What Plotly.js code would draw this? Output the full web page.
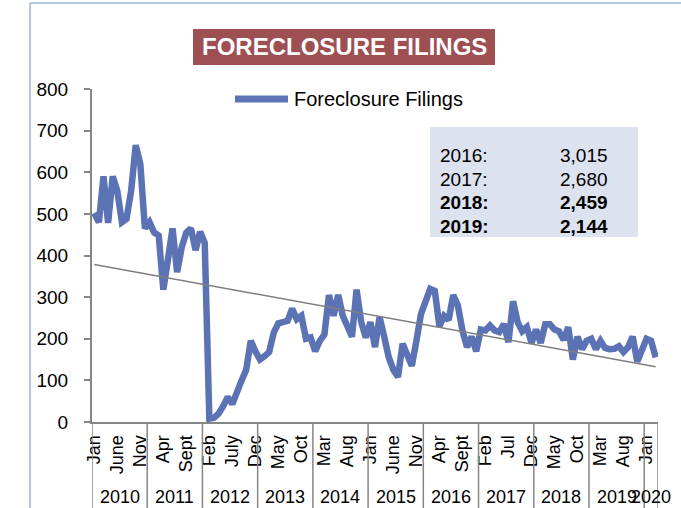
<!DOCTYPE html>
<html>
<head>
<meta charset="utf-8">
<script src="https://cdn.plot.ly/plotly-3.0.1.min.js"></script>
<style>
  html, body { margin: 0; padding: 0; background: #ffffff; }
  #chart { width: 681px; height: 508px; }
</style>
</head>
<body>
<div id="chart"></div>
<script>
// ---- Data (monthly foreclosure filings, Jan 2010 - Mar 2020) ----
const years = ['2010','2011','2012','2013','2014','2015','2016','2017','2018','2019','2020'];
const v2010 = [502, 480, 590, 478, 590, 555, 480, 488, 555, 665, 620, 465];
const v2011 = [480, 455, 448, 318, 390, 465, 360, 420, 455, 465, 413, 457];
const v2012 = [430, 8, 10, 20, 38, 60, 43, 75, 100, 125, 195, 170];
const v2013 = [150, 158, 168, 215, 237, 240, 243, 272, 247, 255, 200, 203];
const v2014 = [170, 195, 210, 305, 255, 305, 255, 230, 205, 318, 240, 203];
const v2015 = [240, 180, 252, 205, 155, 125, 108, 188, 160, 135, 195, 260];
const v2016 = [290, 320, 315, 230, 255, 245, 305, 280, 220, 180, 205, 170];
const v2017 = [222, 220, 232, 220, 216, 235, 192, 290, 240, 218, 228, 190];
const v2018 = [222, 190, 235, 235, 222, 218, 197, 228, 150, 205, 175, 195];
const v2019 = [200, 175, 195, 178, 175, 176, 182, 168, 180, 205, 145, 175];
const v2020 = [200, 195, 155];
const yearValues = [v2010, v2011, v2012, v2013, v2014, v2015, v2016, v2017, v2018, v2019, v2020];

// tick labels shown every 5 months
const tickLabels = ['Jan','June','Nov','Apr','Sept','Feb','July','Dec','May','Oct','Mar','Aug',
                    'Jan','June','Nov','Apr','Sept','Feb','Jul','Dec','May','Oct','Mar','Aug','Jan'];
const tickStep = 5;

// summary box
const statLabels = ['2016:', '2017:', '2018:', '2019:'];
const statTotals = ['3,015', '2,680', '2,459', '2,144'];
const statBold   = [false, false, true, true];

const seriesName = 'Foreclosure Filings';
const chartTitle = 'FORECLOSURE FILINGS';

// ---- Build series ----
const filings = [].concat(...yearValues);
const idx = filings.map((_, i) => i);

// linear trend (least squares)
const n = filings.length;
const mx = idx.reduce((a, b) => a + b, 0) / n;
const my = filings.reduce((a, b) => a + b, 0) / n;
let sxy = 0, sxx = 0;
for (let i = 0; i < n; i++) { sxy += (idx[i] - mx) * (filings[i] - my); sxx += (idx[i] - mx) ** 2; }
const slope = sxy / sxx, icpt = my - slope * mx;
const trend = idx.map(i => icpt + slope * i);

// ---- Geometry helpers (pixel -> paper) ----
const W = 681, H = 508, ML = 92, MR = 23, MT = 89, MB = 86;
const PW = W - ML - MR, PH = H - MT - MB;
const px = x => (x - ML) / PW;
const py = y => (H - MB - y) / PH;

const FONT = 'Liberation Sans, Arial, sans-serif';
const AXIS = '#868686';
const BLUE = '#5B72B4';

const tickvals = [], ticktext = [];
for (let k = 0; k < tickLabels.length; k++) { tickvals.push(k * tickStep); ticktext.push(tickLabels[k]); }

// year groups
const shapes = [];
const annotations = [];
let start = 0;
const bounds = [-0.5];
yearValues.forEach((arr, k) => {
  const end = start + arr.length;
  bounds.push(end - 0.5);
  annotations.push({
    xref: 'x', yref: 'paper', x: (start + end - 1) / 2, y: py(497),
    text: years[k], showarrow: false, xanchor: 'center', yanchor: 'middle',
    font: { family: FONT, size: 18, color: '#000' }
  });
  start = end;
});
bounds.forEach(b => shapes.push({
  type: 'line', xref: 'x', yref: 'paper', x0: b, x1: b, y0: 0, y1: py(510),
  line: { color: AXIS, width: 1.5 }
}));

// outer chart border (partly visible)
shapes.push({ type: 'line', xref: 'paper', yref: 'paper', x0: px(30), x1: px(30), y0: py(510), y1: py(3),
  line: { color: '#9FB4D2', width: 1.5 } });
shapes.push({ type: 'line', xref: 'paper', yref: 'paper', x0: px(30), x1: px(684), y0: py(3), y1: py(3),
  line: { color: '#9FB4D2', width: 1.5 } });

// title box
shapes.push({ type: 'rect', xref: 'paper', yref: 'paper', x0: px(193), x1: px(495), y0: py(65), y1: py(29),
  fillcolor: '#9D4F52', line: { width: 0 } });
annotations.push({ xref: 'paper', yref: 'paper', x: px(344), y: py(47), text: chartTitle, showarrow: false,
  xanchor: 'center', yanchor: 'middle', font: { family: FONT, size: 24, color: '#fff', weight: 'bold' } });

// legend (sample line + label)
shapes.push({ type: 'line', xref: 'paper', yref: 'paper', x0: px(235), x1: px(288), y0: py(99), y1: py(99),
  line: { color: BLUE, width: 7 } });
annotations.push({ xref: 'paper', yref: 'paper', x: px(292), y: py(99), text: seriesName, showarrow: false,
  xanchor: 'left', yanchor: 'middle', font: { family: FONT, size: 20, color: '#000' } });

// summary box
shapes.push({ type: 'rect', xref: 'paper', yref: 'paper', x0: px(430), x1: px(638), y0: py(237), y1: py(127),
  fillcolor: '#DDE2EF', line: { width: 0 } });
const rowY = [155, 179, 202, 226];
statLabels.forEach((lab, k) => {
  const f = { family: FONT, size: 19, color: '#000', weight: statBold[k] ? 'bold' : 'normal' };
  annotations.push({ xref: 'paper', yref: 'paper', x: px(438), y: py(rowY[k]), text: lab, showarrow: false,
    xanchor: 'left', yanchor: 'middle', font: f });
  annotations.push({ xref: 'paper', yref: 'paper', x: px(610), y: py(rowY[k]), text: statTotals[k], showarrow: false,
    xanchor: 'right', yanchor: 'middle', font: f });
});

const traces = [
  { x: idx, y: filings, type: 'scatter', mode: 'lines', name: seriesName,
    line: { color: BLUE, width: 6.5 }, hoverinfo: 'skip' },
  { x: idx, y: trend, type: 'scatter', mode: 'lines', name: 'Trend',
    line: { color: '#7F7F7F', width: 1.5 }, hoverinfo: 'skip' }
];

const layout = {
  width: W, height: H,
  margin: { l: ML, r: MR, t: MT, b: MB, pad: 0 },
  paper_bgcolor: '#fff', plot_bgcolor: '#fff',
  showlegend: false,
  xaxis: {
    range: [-0.5, n - 0.5], tickmode: 'array', tickvals: tickvals, ticktext: ticktext,
    tickangle: -90, ticks: '', showgrid: false, zeroline: false,
    showline: true, linecolor: AXIS, linewidth: 2,
    tickfont: { family: FONT, size: 18, color: '#000' }, ticklabelstandoff: 4
  },
  yaxis: {
    range: [0, 800], dtick: 100, tick0: 0, ticks: 'outside', ticklen: 6, tickwidth: 2, tickcolor: AXIS,
    showgrid: false, zeroline: false, showline: true, linecolor: AXIS, linewidth: 2,
    tickfont: { family: FONT, size: 19, color: '#000' }, ticklabelstandoff: 12
  },
  shapes: shapes,
  annotations: annotations
};

Plotly.newPlot('chart', traces, layout, { staticPlot: true, displayModeBar: false });
</script>
</body>
</html>
